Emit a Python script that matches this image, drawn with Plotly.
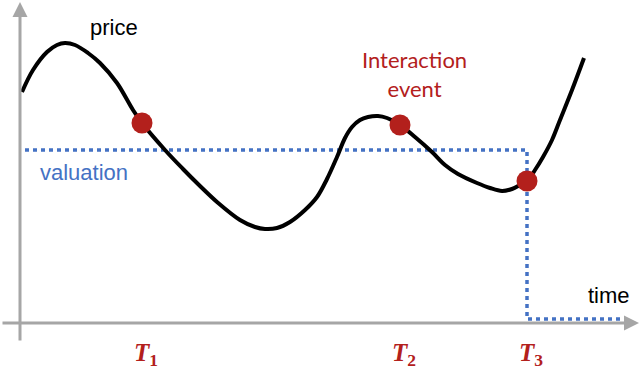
import plotly.graph_objects as go

# price path (time units from the y-axis, price units above the time axis)
price_time = [2, 13, 27, 37, 45, 55, 68, 80, 97, 113, 122, 145, 163, 180, 197, 220, 235,
              245, 257, 270, 285, 297, 307, 317, 325, 332, 340, 348, 358, 367, 380, 395,
              412, 425, 438, 457, 470, 482, 492, 500, 507, 515, 523, 532, 540, 552, 564]
price_vals = [231, 253, 271, 278, 280, 278, 270, 260, 240, 213, 200, 173, 154, 137, 121, 103, 96,
              94, 95, 101, 113, 126, 144, 166, 185, 196, 203, 206, 207, 205, 198, 186,
              171, 158, 149, 140, 135, 132, 134, 138, 142, 153, 166, 183, 203, 233, 265]

# interaction events
event_time = [122, 380, 507]
event_price = [200, 198, 142]
event_labels = ["<i><b>T</b></i><sub><b>1</b></sub>",
                "<i><b>T</b></i><sub><b>2</b></sub>",
                "<i><b>T</b></i><sub><b>3</b></sub>"]

# valuation path
valuation_time = [5, 507, 507, 600]
valuation_vals = [173, 173, 4, 4]

RED = "#B3201C"
BLUE = "#4472C4"
GRAY = "#A6A6A6"

fig = go.Figure()
fig.add_trace(go.Scatter(x=valuation_time, y=valuation_vals, mode="lines",
                         line=dict(color=BLUE, width=3.5, dash="4px,4px"),
                         hoverinfo="skip"))
fig.add_trace(go.Scatter(x=price_time, y=price_vals, mode="lines",
                         line=dict(color="black", width=4, shape="spline", smoothing=1.0),
                         hoverinfo="skip"))
fig.add_trace(go.Scatter(x=event_time, y=event_price, mode="markers",
                         marker=dict(color=RED, size=21), hoverinfo="skip"))

ann = []
# axes arrows
ann.append(dict(x=0, y=321, ax=0, ay=-19, xref="x", yref="y", axref="x", ayref="y",
                text="", showarrow=True, arrowhead=2, arrowwidth=3, arrowsize=1,
                arrowcolor=GRAY))
ann.append(dict(x=619, y=0, ax=-19, ay=0, xref="x", yref="y", axref="x", ayref="y",
                text="", showarrow=True, arrowhead=2, arrowwidth=3, arrowsize=1,
                arrowcolor=GRAY))
# event labels below time axis
for t, lab in zip(event_time, event_labels):
    ann.append(dict(x=t + 4, y=-31, xref="x", yref="y", text=lab, showarrow=False,
                    font=dict(family="Liberation Serif", size=25, color=RED),
                    xanchor="center", yanchor="middle"))
ann.append(dict(x=94, y=296, xref="x", yref="y", text="price", showarrow=False,
                font=dict(family="Liberation Sans", size=22, color="black"),
                xanchor="center", yanchor="middle"))
ann.append(dict(x=589, y=28, xref="x", yref="y", text="time", showarrow=False,
                font=dict(family="Liberation Sans", size=22, color="black"),
                xanchor="center", yanchor="middle"))
ann.append(dict(x=64, y=151, xref="x", yref="y", text="valuation", showarrow=False,
                font=dict(family="Liberation Sans", size=22, color=BLUE),
                xanchor="center", yanchor="middle"))
ann.append(dict(x=394, y=249, xref="x", yref="y", text="Interaction<br>event",
                showarrow=False,
                font=dict(family="Lato", size=22, color=RED),
                xanchor="center", yanchor="middle"))

fig.update_layout(
    width=640, height=371,
    margin=dict(l=0, r=0, t=0, b=0),
    paper_bgcolor="white", plot_bgcolor="white",
    showlegend=False,
    xaxis=dict(range=[-20, 620], visible=False, fixedrange=True),
    yaxis=dict(range=[-48, 323], visible=False, fixedrange=True),
    annotations=ann,
)

fig.write_html("out.html", config={"displayModeBar": False},
               post_script="document.body.style.margin='0';document.body.style.overflow='hidden';")
